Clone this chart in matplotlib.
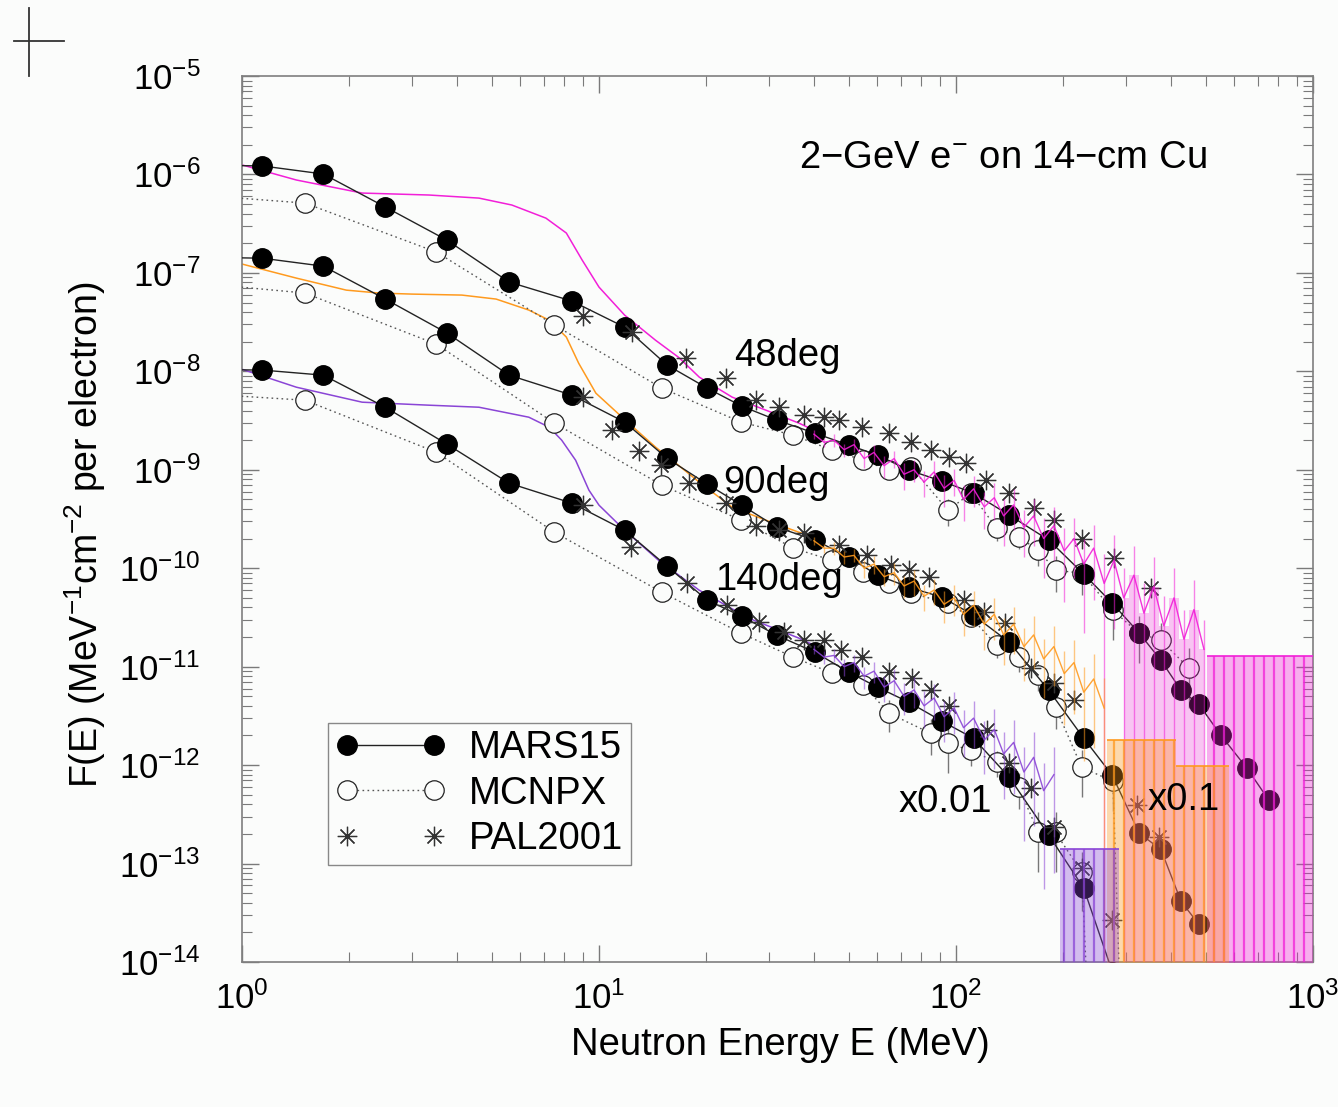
import matplotlib.pyplot as plt
import numpy as np
from matplotlib.lines import Line2D
from matplotlib.legend_handler import HandlerLine2D
from matplotlib.ticker import LogLocator, NullFormatter

plt.rcParams['font.family'] = ['Liberation Sans', 'DejaVu Sans']
plt.rcParams['mathtext.fontset'] = 'custom'
plt.rcParams['mathtext.rm'] = 'Liberation Sans'
plt.rcParams['mathtext.it'] = 'Liberation Sans:italic'
plt.rcParams['mathtext.bf'] = 'Liberation Sans:bold'

BG = '#fbfcfb'
FLOOR = 1e-15
FS = 27.5

# MARS15 energies (MeV) and spectra, 48/90/140 deg (90 scaled x0.1, 140 scaled x0.01)
e_mars = [0.7, 1.14, 1.69, 2.52, 3.75, 5.6, 8.4, 11.8, 15.5, 20.1, 25.1, 31.5, 40.3,
          50.1, 60.3, 73.8, 91.4, 112, 141, 182, 228, 274, 326, 375, 427, 479, 552, 653, 753]
mars_48 = [1.25e-6, 1.22e-6, 1.01e-6, 4.67e-7, 2.15e-7, 8.07e-8, 5.17e-8, 2.81e-8, 1.16e-8,
           6.75e-9, 4.43e-9, 3.19e-9, 2.35e-9, 1.78e-9, 1.41e-9, 9.9e-10, 7.66e-10, 5.78e-10,
           3.46e-10, 1.93e-10, 8.7e-11, 4.41e-11, 2.19e-11, 1.16e-11, 5.75e-12, 4.15e-12,
           2.01e-12, 9.3e-13, 4.38e-13]
mars_90 = [1.45e-7, 1.41e-7, 1.17e-7, 5.42e-8, 2.45e-8, 9.14e-9, 5.73e-9, 3.05e-9, 1.31e-9,
           7.14e-10, 4.37e-10, 2.61e-10, 1.93e-10, 1.29e-10, 8.5e-11, 6.41e-11, 5.07e-11,
           3.33e-11, 1.77e-11, 5.75e-12, 1.87e-12, 7.87e-13, 2.03e-13, 1.39e-13, 4.13e-14, 2.41e-14]
mars_140 = [1.05e-8, 1.03e-8, 9.14e-9, 4.32e-9, 1.82e-9, 7.31e-10, 4.58e-10, 2.43e-10, 1.05e-10,
            4.73e-11, 3.25e-11, 2.08e-11, 1.40e-11, 8.77e-12, 6.18e-12, 4.35e-12, 2.79e-12,
            1.87e-12, 7.52e-13, 1.94e-13, 5.6e-14, 8e-15]

# MCNPX (open circles, dotted) with relative errors
e_mcnp_48 = [0.7, 1.5, 3.5, 7.5, 15, 25, 35, 45, 55, 65, 75, 95, 110, 130, 150, 170, 190, 225,
             275, 325, 375, 450]
mcnp_48 = [6.3e-7, 5.12e-7, 1.63e-7, 2.95e-8, 6.75e-9, 3.05e-9, 2.25e-9, 1.58e-9, 1.25e-9,
           9.9e-10, 1.06e-9, 3.88e-10, 5.78e-10, 2.55e-10, 2.07e-10, 1.52e-10, 9.55e-11, 8.9e-11,
           3.74e-11, 2.19e-11, 1.85e-11, 9.6e-12]
mcnp_48_err = [0, 0, 0, 0, 0, 0.05, 0.05, 0.1, 0.1, 0.15, 0.15, 0.3, 0.2, 0.25, 0.25, 0.3, 0.4,
               0.4, 0.5, 0.5, 0.5, 0.6]
e_mcnp_90 = [0.7, 1.5, 3.5, 7.5, 15, 25, 35, 45, 55, 65, 75, 95, 110, 130, 150, 170, 190, 225,
             275, 325]
mcnp_90 = [8.07e-8, 6.24e-8, 1.89e-8, 2.98e-9, 6.97e-10, 3.08e-10, 1.6e-10, 1.2e-10, 9.1e-11,
           7.04e-11, 5.57e-11, 4.41e-11, 3.18e-11, 1.65e-11, 1.25e-11, 8.18e-12, 3.87e-12,
           9.5e-13, 6.84e-13, 1e-20]
mcnp_90_err = [0, 0, 0, 0, 0, 0.05, 0.05, 0.1, 0.1, 0.1, 0.15, 0.2, 0.2, 0.25, 0.3, 0.3, 0.4,
               0.5, 0.5, 0]
e_mcnp_140 = [0.7, 1.5, 3.5, 7.5, 15, 25, 35, 45, 55, 65, 85, 95, 110, 130, 150, 170, 190, 225, 275]
mcnp_140 = [6.05e-9, 5.09e-9, 1.51e-9, 2.32e-10, 5.7e-11, 2.19e-11, 1.25e-11, 8.58e-12,
            6.47e-12, 3.36e-12, 2.1e-12, 1.67e-12, 1.41e-12, 1.07e-12, 5.94e-13, 2.07e-13,
            2.07e-13, 8.15e-14, 1e-20]
mcnp_140_err = [0, 0, 0, 0, 0, 0.05, 0.1, 0.1, 0.15, 0.35, 0.4, 0.5, 0.3, 0.3, 0.4, 0.6, 0.6,
                0.6, 0]

# PAL2001 measurement (asterisks)
e_pal_48 = [9.02, 12.4, 17.5, 22.7, 27.5, 31.9, 37.5, 42.7, 47.0, 54.6, 64.9, 74.8, 85.1, 95.6,
            107, 121, 141, 165, 188, 225, 277, 352]
pal_48 = [3.64e-8, 2.5e-8, 1.36e-8, 8.53e-9, 5.09e-9, 4.32e-9, 3.59e-9, 3.42e-9, 3.19e-9,
          2.71e-9, 2.35e-9, 1.9e-9, 1.58e-9, 1.34e-9, 1.17e-9, 7.84e-10, 5.78e-10, 4.07e-10,
          3.08e-10, 1.97e-10, 1.26e-10, 6.27e-11]
e_pal_90 = [9.02, 10.9, 12.95, 14.9, 17.9, 22.7, 27.5, 31.9, 37.5, 47.0, 56.2, 65.7, 73.9, 84.2,
            105, 120, 137, 162, 188, 214, 322, 370]
pal_90 = [5.47e-9, 2.52e-9, 1.55e-9, 1.11e-9, 7.3e-10, 4.58e-10, 2.67e-10, 2.43e-10, 2.27e-10,
          1.71e-10, 1.36e-10, 1.07e-10, 9.55e-11, 8.1e-11, 4.73e-11, 3.57e-11, 2.76e-11,
          9.6e-12, 6.78e-12, 4.56e-12, 3.9e-13, 1.85e-13]
e_pal_140 = [9.02, 12.3, 17.6, 22.8, 28.1, 32.9, 37.5, 42.7, 47.7, 54.6, 65.0, 75.4, 85.1, 95.6,
             122, 141, 162, 188, 225, 274]
pal_140 = [4.37e-10, 1.63e-10, 7.04e-11, 4.21e-11, 2.82e-11, 2.24e-11, 1.85e-11, 1.85e-11,
           1.47e-11, 1.25e-11, 8.77e-12, 7.62e-12, 5.75e-12, 3.96e-12, 2.26e-12, 1.04e-12,
           5.81e-13, 2.33e-13, 9.1e-14, 2.65e-14]

# unlabelled transport-code spectra: smooth low-energy part
e_sm_48 = [1.0, 1.42, 2.17, 3.34, 4.61, 5.7, 7.1, 8.1, 8.97, 10.0, 11.8, 14.4, 16.7, 19.1, 23.6,
           29.3, 36.3, 40.0]
sm_48 = [1.25e-6, 8.78e-7, 6.47e-7, 6.18e-7, 5.75e-7, 4.89e-7, 3.6e-7, 2.54e-7, 1.35e-7,
         7.17e-8, 3.72e-8, 2.07e-8, 1.39e-8, 8.72e-9, 5.47e-9, 4.04e-9, 2.98e-9, 2.52e-9]
e_sm_90 = [1.0, 1.42, 1.96, 2.42, 2.99, 4.13, 5.15, 6.36, 7.25, 8.1, 8.77, 9.8, 12.1, 14.4, 16.4,
           19.1, 23.6, 29.3, 36.3, 40.0]
sm_90 = [1.23e-7, 8.85e-8, 6.68e-8, 6.24e-8, 6.09e-8, 5.95e-8, 5.42e-8, 4.19e-8, 3.31e-8,
         2.23e-8, 1.21e-8, 6.0e-9, 2.98e-9, 1.70e-9, 1.17e-9, 7.48e-10, 4.17e-10, 3.08e-10,
         2.32e-10, 2.07e-10]
e_sm_140 = [1.0, 1.42, 2.17, 3.34, 4.61, 6.36, 7.25, 7.86, 8.6, 9.37, 10.0, 11.8, 14.7, 19.1,
            26.3, 36.3, 40.0]
sm_140 = [1.05e-8, 6.9e-9, 4.86e-9, 4.53e-9, 4.32e-9, 3.42e-9, 2.71e-9, 2.0e-9, 1.25e-9,
          6.21e-10, 4.37e-10, 2.43e-10, 1.2e-10, 5.97e-11, 3.1e-11, 1.95e-11, 1.65e-11]

# noisy high-energy part on a common energy grid (MeV)
e_fine = np.array([40.0, 42.7, 45.5, 48.6, 51.8, 55.3, 58.9, 62.9, 67.1, 71.5, 76.3, 81.4, 86.8,
                   92.6, 98.8, 105, 112, 120, 128, 136, 145, 155, 165, 176, 188, 201, 214, 228,
                   243, 260, 277, 295, 315, 336, 358, 382, 408, 435, 464, 495, 528, 563, 600,
                   640, 683, 729, 777, 829, 884, 943])
hist_48 = [2.3e-9, 1.9e-9, 2.0e-9, 1.6e-9, 1.8e-9, 1.3e-9, 1.5e-9, 1.1e-9, 1.3e-9, 9.0e-10,
           1.0e-9, 7.5e-10, 9.5e-10, 6.5e-10, 7.8e-10, 5.0e-10, 6.4e-10, 4.2e-10, 5.2e-10,
           3.4e-10, 4.4e-10, 2.6e-10, 3.4e-10, 2.0e-10, 2.7e-10, 1.5e-10, 2.0e-10, 1.1e-10,
           1.6e-10, 7.0e-11, 1.2e-10, 5.0e-11, 8.5e-11, 3.5e-11, 6.5e-11, 2.6e-11, 5.0e-11,
           1.9e-11, 3.8e-11, 1.5e-11]
hist_48_err = [0.1, 0.1, 0.15, 0.15, 0.15, 0.2, 0.2, 0.25, 0.2, 0.3, 0.25, 0.3, 0.3, 0.35, 0.3,
               0.4, 0.35, 0.4, 0.4, 0.5, 0.45, 0.5, 0.5, 0.6, 0.55, 0.7, 0.6, 0.8, 0.7, 1, 0.8,
               1, 1, 1, 1, 1, 1, 1, 1, 1]
tail_48 = [(505, 1000, 1.28e-11)]
hist_90 = [1.9e-10, 1.6e-10, 1.6e-10, 1.3e-10, 1.35e-10, 1.0e-10, 1.1e-10, 8.2e-11, 9.0e-11,
           6.6e-11, 7.4e-11, 5.2e-11, 6.0e-11, 4.3e-11, 5.0e-11, 3.4e-11, 4.2e-11, 2.7e-11,
           3.4e-11, 2.1e-11, 2.7e-11, 1.6e-11, 2.1e-11, 1.2e-11, 1.6e-11, 8.5e-12, 1.1e-11,
           5.5e-12, 7.5e-12, 3.8e-12]
hist_90_err = [0.1, 0.1, 0.15, 0.15, 0.15, 0.2, 0.2, 0.2, 0.25, 0.25, 0.3, 0.3, 0.3, 0.35,
               0.35, 0.4, 0.4, 0.45, 0.45, 0.5, 0.5, 0.55, 0.55, 0.6, 0.6, 0.7, 0.7, 0.8, 0.8, 1]
tail_90 = [(265, 413, 1.79e-12), (413, 582, 9.7e-13)]
hist_140 = [1.5e-11, 1.25e-11, 1.3e-11, 1.0e-11, 1.1e-11, 8.0e-12, 9.0e-12, 6.2e-12, 7.2e-12,
            5.0e-12, 5.8e-12, 4.0e-12, 4.8e-12, 3.1e-12, 3.8e-12, 2.4e-12, 3.0e-12, 1.8e-12,
            2.3e-12, 1.3e-12, 1.7e-12, 8.5e-13, 1.2e-12, 5.5e-13, 8.0e-13]
hist_140_err = [0.1, 0.15, 0.15, 0.2, 0.2, 0.25, 0.25, 0.3, 0.3, 0.35, 0.35, 0.4, 0.4, 0.45,
                0.45, 0.5, 0.5, 0.55, 0.6, 0.65, 0.7, 0.8, 0.8, 0.9, 0.9]
tail_140 = [(195, 286, 1.39e-13)]

MAGENTA = '#f21fd8'
ORANGE = '#ff9a1e'
PURPLE = '#8a45d6'


class RightEndMarker(HandlerLine2D):
    # single legend marker placed at the right end of the handle
    def get_xdata(self, legend, xdescent, ydescent, width, height, fontsize):
        xd, xm = super().get_xdata(legend, xdescent, ydescent, width, height, fontsize)
        return xd, [xm[-1]]


def draw_model(ax, e_sm, v_sm, v_hist, rel_hist, tails, color):
    ax.plot(e_sm, v_sm, color=color, lw=1.1, zorder=2)
    n = len(v_hist)
    e = e_fine[:n]
    v = np.array(v_hist)
    rel = np.array(rel_hist, dtype=float)
    deep = rel >= 1
    lo = np.where(deep, FLOOR, v * (1 - np.minimum(rel, 0.95)))
    hi = v * (1 + rel)
    ax.fill_between(e, FLOOR, v, where=deep, step='mid', color=color, alpha=0.25,
                    lw=0, zorder=4.5)
    ax.vlines(e, lo, hi, color=color, lw=1.0, alpha=0.55, zorder=5)
    ax.plot(e, v, color=color, lw=1.0, alpha=0.9, zorder=5)
    for e0, e1, level in tails:
        ax.fill_between([e0, e1], FLOOR, level, color=color, alpha=0.35, lw=0, zorder=4.5)
        ax.hlines(level, e0, e1, color=color, lw=1.2, zorder=5)
        inside = e_fine[(e_fine >= e0) & (e_fine <= e1)]
        ax.vlines(inside, FLOOR, level, color=color, lw=1.6, alpha=0.75, zorder=5)


def draw_mcnp(ax, e, v, rel):
    v = np.array(v)
    rel = np.array(rel)
    ax.plot(e, v, color='#555555', lw=1.0, ls=(0, (1.2, 2.4)), marker='o', ms=14,
            mfc=BG, mec='#222222', mew=0.9, zorder=3)
    has = rel > 0
    ax.vlines(np.array(e)[has], v[has] * (1 - rel[has]), v[has] * (1 + rel[has]),
              color='#777777', lw=1.0, zorder=2.5)


def draw_mars(ax, v):
    ax.plot(e_mars[:len(v)], v, color='#222222', lw=1.0, marker='o', ms=14,
            mfc='black', mec='black', zorder=3.5)


def draw_pal(ax, e, v):
    ax.plot(e, v, ls='none', marker=(8, 2, 0), ms=14, color='#333333', mew=0.9, zorder=4)


W, H = 1338, 1107
fig = plt.figure(figsize=(W / 100, H / 100), dpi=100, facecolor=BG)
ax = fig.add_axes([242 / W, 1 - 962 / H, 1071 / W, 886 / H])
ax.set_facecolor(BG)
ax.set_xscale('log')
ax.set_yscale('log')

draw_model(ax, e_sm_48, sm_48, hist_48, hist_48_err, tail_48, MAGENTA)
draw_model(ax, e_sm_90, sm_90, hist_90, hist_90_err, tail_90, ORANGE)
draw_model(ax, e_sm_140, sm_140, hist_140, hist_140_err, tail_140, PURPLE)

draw_mcnp(ax, e_mcnp_48, mcnp_48, mcnp_48_err)
draw_mcnp(ax, e_mcnp_90, mcnp_90, mcnp_90_err)
draw_mcnp(ax, e_mcnp_140, mcnp_140, mcnp_140_err)

draw_mars(ax, mars_48)
draw_mars(ax, mars_90)
draw_mars(ax, mars_140)

draw_pal(ax, e_pal_48, pal_48)
draw_pal(ax, e_pal_90, pal_90)
draw_pal(ax, e_pal_140, pal_140)

ax.set_xlim(1, 1000)
ax.set_ylim(1e-14, 1e-5)

for axis in (ax.xaxis, ax.yaxis):
    axis.set_major_locator(LogLocator(base=10, numticks=20))
    axis.set_minor_locator(LogLocator(base=10, subs=np.arange(2, 10), numticks=100))
    axis.set_minor_formatter(NullFormatter())

ax.tick_params(which='both', direction='in', top=True, right=True, color='#7a7a7a')
ax.tick_params(which='major', length=12, width=1.0, labelsize=25)
ax.tick_params(which='minor', length=7, width=0.8)
ax.tick_params(axis='x', which='major', pad=14)
ax.tick_params(axis='y', which='major', pad=30)
for sp in ax.spines.values():
    sp.set_color('#7f7f7f')
    sp.set_linewidth(1.2)

# annotations
ax.text(36.3, 1.47e-6, '2\u2212GeV e$^{-}$ on 14\u2212cm Cu', fontsize=FS, va='center')
ax.text(23.9, 1.43e-8, '48deg', fontsize=FS, va='center')
ax.text(22.3, 7.3e-10, '90deg', fontsize=FS, va='center')
ax.text(21.2, 7.55e-11, '140deg', fontsize=FS, va='center')
ax.text(69.2, 4.19e-13, 'x0.01', fontsize=FS, va='center', zorder=6)
ax.text(343, 4.38e-13, 'x0.1', fontsize=FS, va='center', zorder=6)

fig.text(780 / W, 1 - 1045 / H, 'Neutron Energy E (MeV)', fontsize=FS, ha='center', va='center')
fig.text(85 / W, 1 - 535 / H, 'F(E) (MeV$^{-1}$cm$^{-2}$ per electron)', fontsize=27,
         rotation=90, ha='center', va='center')

# legend
h_mars = Line2D([], [], color='#222222', lw=1.0, marker='o', ms=14, mfc='black', mec='black')
h_mcnp = Line2D([], [], color='#555555', lw=1.0, ls=(0, (1.2, 2.4)), marker='o', ms=14,
                mfc=BG, mec='#222222', mew=0.9)
h_pal = Line2D([], [], ls='none', marker=(8, 2, 0), ms=14, color='#333333', mew=0.9)
leg = ax.legend([h_mars, h_mcnp, h_pal], ['MARS15', 'MCNPX', 'PAL2001'], loc='lower left',
                bbox_to_anchor=(0.0803, 0.1095), borderaxespad=0, numpoints=2,
                handlelength=2.88, handletextpad=0.62, fontsize=FS, fancybox=False,
                edgecolor='#888888', facecolor=BG, framealpha=1, borderpad=0.2,
                labelspacing=0.25, handler_map={h_pal: RightEndMarker(numpoints=2)})
leg.get_frame().set_linewidth(1.0)
leg.set_zorder(7)

# registration cross in the page corner
fig.add_artist(Line2D([14 / W, 64 / W], [1 - 41 / H, 1 - 41 / H], color='#333333', lw=1.3))
fig.add_artist(Line2D([29 / W, 29 / W], [1 - 8 / H, 1 - 76 / H], color='#333333', lw=1.3))

fig.savefig('out.png', dpi=100, facecolor=BG)
